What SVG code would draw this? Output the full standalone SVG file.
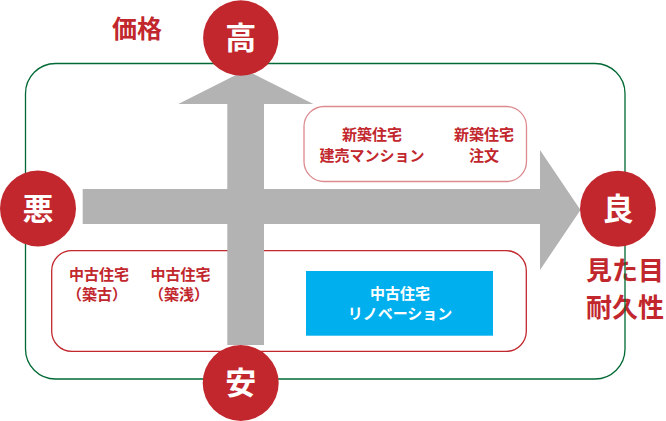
<svg xmlns="http://www.w3.org/2000/svg" width="666" height="421" viewBox="0 0 666 421">
<style>
text{font-family:"Noto Sans CJK JP","Noto Sans CJK SC",sans-serif;font-weight:bold;text-anchor:middle;dominant-baseline:central}
.red{fill:#c1272d}
.big{font-size:26px}
.axis{fill:#fff;font-size:31px}
.lbl{font-size:15px}
.box{fill:none;stroke-width:1.3}
.circ{fill:#c1272d}
.arrow{fill:#b3b3b3}
</style>
<rect width="666" height="421" fill="#fff"/>
<g id="label-price"><text class="red" x="137" y="27" font-size="25">価格</text></g>
<g id="label-quality"><text class="red big" x="625" y="268.5">見た目</text><text class="red big" x="625" y="305">耐久性</text></g>
<rect id="frame" x="25.5" y="63.5" width="599.5" height="315.5" rx="30" fill="none" stroke="#006934" stroke-width="1.3"/>
<g id="box-new"><rect class="box" x="304" y="106.5" width="222.5" height="75" rx="20" stroke="#dc8a8e"/>
<text class="red lbl" x="372" y="133">新築住宅</text><text class="red lbl" x="372" y="154">建売マンション</text>
<text class="red lbl" x="484" y="133">新築住宅</text><text class="red lbl" x="484" y="154">注文</text></g>
<g id="box-used"><rect class="box" x="51.7" y="250.7" width="474.6" height="100.6" rx="20" stroke="#c1272d"/>
<text class="red lbl" x="99" y="273.5">中古住宅</text><text class="red lbl" x="97" y="293">（築古）</text>
<text class="red lbl" x="180.5" y="273.5">中古住宅</text><text class="red lbl" x="179" y="293">（築浅）</text></g>
<g id="connectors">
<polygon class="arrow" points="82.7,189 540,189 540,150 580.5,210 540,270 540,224 82.7,224"/>
<polygon class="arrow" points="227.3,345 227.3,104 178.3,104 245.8,70 313.3,104 264,104 264,345"/>
</g>
<g id="box-reno"><rect x="306" y="271" width="187" height="64.7" fill="#00b0ee"/>
<text class="lbl" fill="#fff" x="400" y="292.5">中古住宅</text><text class="lbl" fill="#fff" x="400" y="312">リノベーション</text></g>
<g id="node-high"><circle class="circ" cx="240.8" cy="38" r="37.7"/><text class="axis" x="240.8" y="35">高</text></g>
<g id="node-bad"><circle class="circ" cx="38" cy="208.5" r="38"/><text class="axis" x="38" y="206">悪</text></g>
<g id="node-good"><circle class="circ" cx="618" cy="208.7" r="38"/><text class="axis" x="618" y="206">良</text></g>
<g id="node-low"><circle class="circ" cx="240.7" cy="383" r="38"/><text class="axis" x="240.7" y="380">安</text></g>
</svg>
